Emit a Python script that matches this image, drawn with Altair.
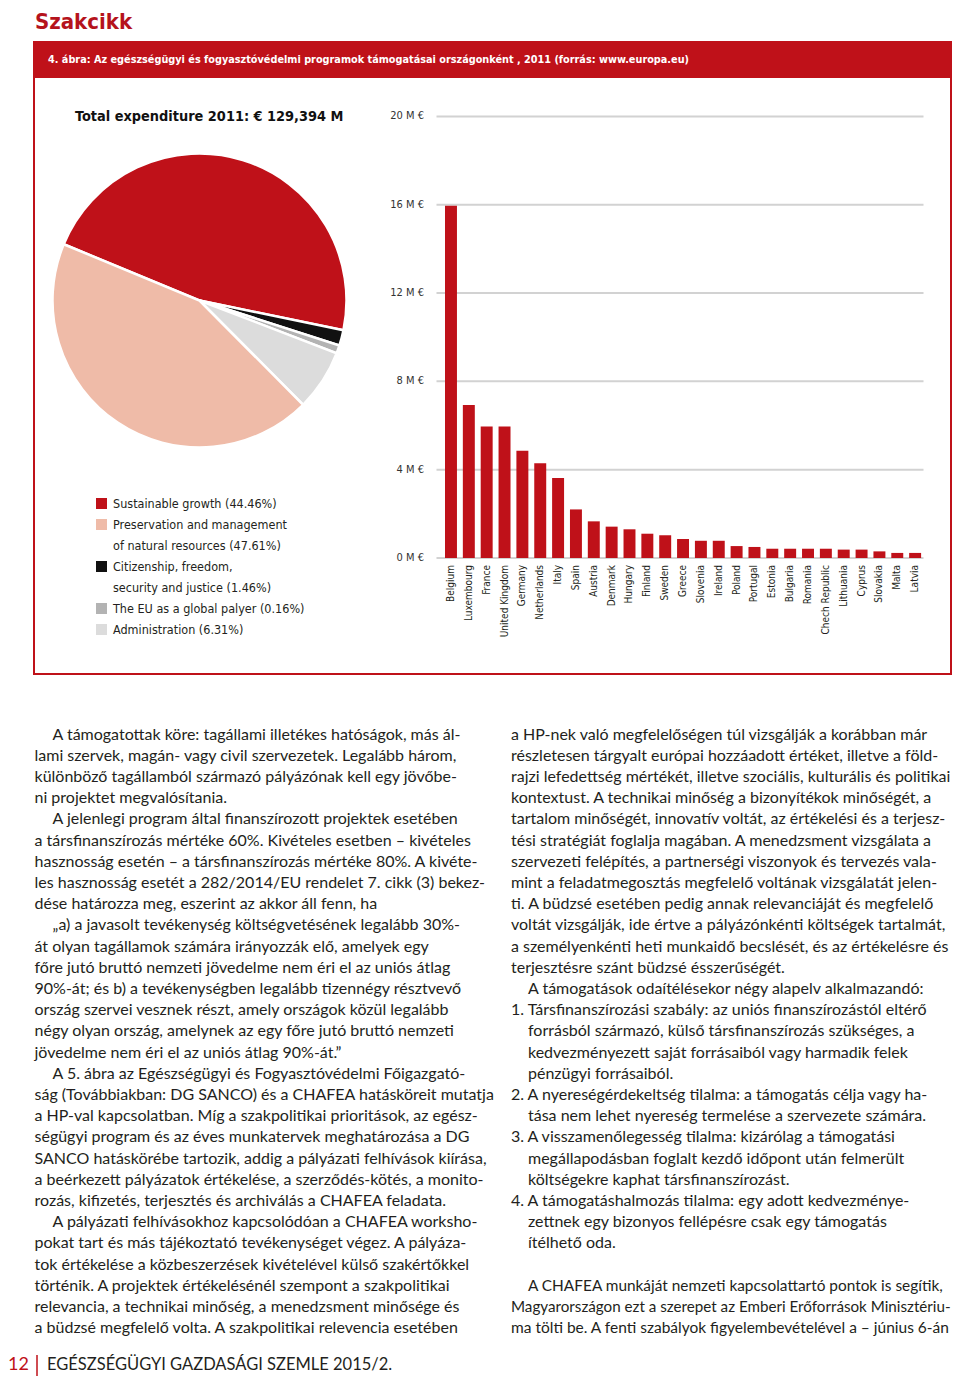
import math
import altair as alt
import pandas as pd

# ---------------------------------------------------------------- data
page_title = "Szakcikk"
fig_caption = ("4. ábra: Az egészségügyi és fogyasztóvédelmi programok támogatásai "
               "országonként , 2011 (forrás: www.europa.eu)")
pie_title = "Total expenditure 2011: € 129,394 M"

pie_categories = ["Sustainable growth",
                  "Citizenship, freedom, security and justice",
                  "The EU as a global palyer",
                  "Administration",
                  "Preservation and management of natural resources"]
pie_shares = [47.0, 1.7, 0.9, 6.7, 43.7]          # shares as drawn in the picture
pie_colors = ["#bf1119", "#111111", "#b3b3b3", "#dcdcdc", "#efbba8"]

legend_lines = ["Sustainable growth (44.46%)",
                "Preservation and management",
                "of natural resources (47.61%)",
                "Citizenship, freedom,",
                "security and justice (1.46%)",
                "The EU as a global palyer (0.16%)",
                "Administration (6.31%)"]
legend_square_lines = [0, 1, 3, 5, 6]
legend_square_cats = [pie_categories[0], pie_categories[4], pie_categories[1],
                      pie_categories[2], pie_categories[3]]

countries = ["Belgium", "Luxembourg", "France", "United Kingdom", "Germany",
             "Netherlands", "Italy", "Spain", "Austria", "Denmark", "Hungary",
             "Finland", "Sweden", "Greece", "Slovenia", "Ireland", "Poland",
             "Portugal", "Estonia", "Bulgaria", "Romania", "Chech Republic",
             "Lithuania", "Cyprus", "Slovakia", "Malta", "Latvia"]
values_meur = [15.95, 6.93, 5.96, 5.96, 4.86, 4.29, 3.62, 2.20, 1.66, 1.42, 1.30,
               1.10, 1.03, 0.86, 0.78, 0.78, 0.54, 0.50, 0.42, 0.42, 0.42, 0.42,
               0.38, 0.38, 0.30, 0.23, 0.23]
tick_values = [0, 4, 8, 12, 16, 20]
tick_labels = ["0 M €", "4 M €", "8 M €", "12 M €", "16 M €", "20 M €"]

left_lines = [
    "A támogatottak köre: tagállami illetékes hatóságok, más ál-",
    "lami szervek, magán- vagy civil szervezetek. Legalább három,",
    "különböző tagállamból származó pályázónak kell egy jövőbe-",
    "ni projektet megvalósítania.",
    "A jelenlegi program által finanszírozott projektek esetében",
    "a társfinanszírozás mértéke 60%. Kivételes esetben – kivételes",
    "hasznosság esetén – a társfinanszírozás mértéke 80%. A kivéte-",
    "les hasznosság esetét a 282/2014/EU rendelet 7. cikk (3) bekez-",
    "dése határozza meg, eszerint az akkor áll fenn, ha",
    "„a) a javasolt tevékenység költségvetésének legalább 30%-",
    "át olyan tagállamok számára irányozzák elő, amelyek egy",
    "főre  jutó bruttó nemzeti jövedelme nem éri el az uniós átlag",
    "90%-át; és b) a tevékenységben legalább tizennégy résztvevő",
    "ország szervei vesznek részt, amely országok közül legalább",
    "négy olyan ország, amelynek az egy főre jutó bruttó nemzeti",
    "jövedelme nem éri el az uniós átlag 90%-át.”",
    "A 5. ábra az  Egészségügyi és Fogyasztóvédelmi Főigazgató-",
    "ság (Továbbiakban: DG SANCO) és a CHAFEA hatásköreit mutatja",
    "a HP-val kapcsolatban. Míg a szakpolitikai prioritások, az egész-",
    "ségügyi program és az éves munkatervek meghatározása a DG",
    "SANCO hatáskörébe tartozik, addig a pályázati felhívások kiírása,",
    "a beérkezett pályázatok értékelése, a szerződés-kötés, a monito-",
    "rozás, kifizetés, terjesztés és archiválás a CHAFEA feladata.",
    "A pályázati felhívásokhoz kapcsolódóan a CHAFEA worksho-",
    "pokat tart és más tájékoztató tevékenységet végez. A pályáza-",
    "tok értékelése a közbeszerzések kivételével külső szakértőkkel",
    "történik. A projektek értékelésénél szempont a szakpolitikai",
    "relevancia, a technikai minőség, a menedzsment minősége és",
    "a büdzsé megfelelő volta. A szakpolitikai relevencia esetében",
]
left_indented = [0, 4, 9, 16, 23]

right_lines = [
    "a HP-nek való megfelelőségen túl vizsgálják a korábban már",
    "részletesen tárgyalt európai hozzáadott értéket, illetve a föld-",
    "rajzi lefedettség mértékét, illetve szociális, kulturális és politikai",
    "kontextust.  A technikai minőség a bizonyítékok minőségét, a",
    "tartalom minőségét, innovatív voltát, az értékelési és a terjesz-",
    "tési stratégiát foglalja magában. A menedzsment vizsgálata a",
    "szervezeti felépítés, a partnerségi viszonyok és tervezés vala-",
    "mint a feladatmegosztás megfelelő voltának vizsgálatát jelen-",
    "ti. A büdzsé esetében pedig annak relevanciáját és megfelelő",
    "voltát vizsgálják, ide értve a pályázónkénti költségek tartalmát,",
    "a személyenkénti heti munkaidő becslését, és az értékelésre és",
    "terjesztésre szánt büdzsé ésszerűségét.",
    "A támogatások odaítélésekor négy alapelv alkalmazandó:",
    "1. Társfinanszírozási szabály: az uniós finanszírozástól eltérő",
    "forrásból származó, külső társfinanszírozás szükséges, a",
    "kedvezményezett saját forrásaiból vagy harmadik felek",
    "pénzügyi forrásaiból.",
    "2. A nyereségérdekeltség tilalma: a támogatás célja vagy ha-",
    "tása nem lehet nyereség termelése a szervezete számára.",
    "3. A visszamenőlegesség tilalma: kizárólag a támogatási",
    "megállapodásban foglalt kezdő időpont után felmerült",
    "költségekre kaphat társfinanszírozást.",
    "4. A támogatáshalmozás tilalma: egy adott kedvezménye-",
    "zettnek egy bizonyos fellépésre csak egy támogatás",
    "ítélhető oda.",
    "",
    "A CHAFEA munkáját nemzeti kapcsolattartó pontok is segítik,",
    "Magyarországon ezt a szerepet az Emberi Erőforrások Minisztériu-",
    "ma tölti be. A fenti szabályok figyelembevételével a – június 6-án",
]
right_indented = [12, 14, 15, 16, 18, 20, 21, 23, 24, 26]

footer_page = "12"
footer_text = "EGÉSZSÉGÜGYI GAZDASÁGI SZEMLE 2015/2."

# ---------------------------------------------------------------- style
RED = "#bf1119"
INK = "#231f20"
NARROW = "'DejaVu Sans Condensed', 'Liberation Sans', sans-serif"
BODY = "Lato, 'Open Sans', sans-serif"
OX, OY = 8, 8          # page margin of the embedding html

W, H = 944, 1371
BODY_SIZE = 16
# a few long lines of the right column set a touch tighter so they fit the page
right_size_override = {26: 15.4, 27: 15.2, 28: 15.5}


def P(x):
    return x - OX


def Q(y):
    return y - OY


def const_chart():
    return alt.Chart(pd.DataFrame({"k": [0]}))


# ---------------------------------------------------------------- header
title_txt = const_chart().mark_text(
    text=page_title, font=NARROW, fontSize=22, fontWeight="bold", color="#b5131c",
    align="left", baseline="alphabetic"
).encode(x=alt.value(P(35)), y=alt.value(20.5))

box = const_chart().mark_rect(fill="white", stroke=RED, strokeWidth=2).encode(
    x=alt.value(P(34)), x2=alt.value(P(951)), y=alt.value(Q(42)), y2=alt.value(Q(674)))

band = const_chart().mark_rect(fill=RED).encode(
    x=alt.value(P(34)), x2=alt.value(P(951)), y=alt.value(Q(42)), y2=alt.value(Q(78)))

caption_txt = const_chart().mark_text(
    text=fig_caption, font=NARROW, fontSize=10.8, fontWeight="bold", color="white",
    align="left", baseline="middle"
).encode(x=alt.value(P(48)), y=alt.value(Q(60)))

# ---------------------------------------------------------------- pie
pie_df = pd.DataFrame({"cat": pie_categories, "share": pie_shares,
                       "ord": list(range(len(pie_categories)))})
color_scale = alt.Scale(domain=pie_categories, range=pie_colors)
theta0 = math.radians(292.5)

pie = alt.Chart(pie_df).mark_arc(outerRadius=147, stroke="white", strokeWidth=2.5).encode(
    theta=alt.Theta("share:Q", stack=True,
                    scale=alt.Scale(domain=[0, 100], range=[theta0, theta0 + 2 * math.pi])),
    color=alt.Color("cat:N", scale=color_scale, legend=None),
    order=alt.Order("ord:Q"),
    x=alt.value(P(199.5)), y=alt.value(Q(300.5)),
)

pie_title_txt = const_chart().mark_text(
    text=pie_title, font=NARROW, fontSize=14.4, fontWeight="bold", color="#111111",
    align="left", baseline="middle"
).encode(x=alt.value(P(75)), y=alt.value(Q(117)))

# legend (manual)
LEG_Y0, LEG_LH = 503.5, 21.0
leg_sq_df = pd.DataFrame({"cat": legend_square_cats, "line": legend_square_lines})
leg_sq = alt.Chart(leg_sq_df).mark_square(size=121, opacity=1, filled=True).transform_calculate(
    py=f"{Q(LEG_Y0)} + datum.line * {LEG_LH}"
).encode(
    x=alt.value(P(101.5)),
    y=alt.Y("py:Q", scale=None, axis=None),
    color=alt.Color("cat:N", scale=color_scale, legend=None),
)
leg_txt_df = pd.DataFrame({"t": legend_lines, "line": list(range(len(legend_lines)))})
leg_txt = alt.Chart(leg_txt_df).mark_text(
    font=NARROW, fontSize=12.5, color=INK, align="left", baseline="middle"
).transform_calculate(
    py=f"{Q(LEG_Y0)} + datum.line * {LEG_LH}"
).encode(
    x=alt.value(P(113)),
    y=alt.Y("py:Q", scale=None, axis=None),
    text="t:N",
)

# ---------------------------------------------------------------- bar chart
bar_df = pd.DataFrame({"country": countries, "value": values_meur})
tick_df = pd.DataFrame({"v": tick_values, "lab": tick_labels})

x_enc = alt.X("country:N", sort=countries, axis=None,
              scale=alt.Scale(range=[P(436.0), P(930.1)], paddingInner=0.33,
                              paddingOuter=0.504, round=False))
y_scale = alt.Scale(domain=[0, 20], range=[Q(558), Q(116.4)])

grid = alt.Chart(tick_df).mark_rule(color="#d2d2d2", strokeWidth=2).encode(
    y=alt.Y("v:Q", scale=y_scale, axis=None),
    x=alt.value(P(436.5)), x2=alt.value(P(923.5)),
)
ylab = alt.Chart(tick_df).mark_text(
    font=NARROW, fontSize=11, color="#333333", align="right", baseline="middle"
).encode(
    y=alt.Y("v:Q", scale=y_scale, axis=None),
    x=alt.value(P(424)),
    text="lab:N",
)
bars = alt.Chart(bar_df).mark_bar(color=RED).encode(
    x=x_enc,
    y=alt.Y("value:Q", scale=y_scale, axis=None),
)
xlab = alt.Chart(bar_df).mark_text(
    font=NARROW, fontSize=10, color=INK, angle=270, align="right", baseline="middle"
).encode(
    x=x_enc,
    y=alt.value(Q(565)),
    text="country:N",
)
bar_block = alt.layer(grid, ylab, bars, xlab)

# ---------------------------------------------------------------- body text
LH = 21.2


def text_block(lines, x_norm, x_ind, indented, y0, overrides):
    df = pd.DataFrame({
        "t": lines,
        "px": [P(x_ind if i in indented else x_norm) for i in range(len(lines))],
        "py": [Q(y0 + i * LH) for i in range(len(lines))],
        "fs": [overrides.get(i, BODY_SIZE) for i in range(len(lines))],
    })
    return alt.Chart(df).mark_text(
        font=BODY, color=INK, align="left", baseline="middle"
    ).encode(
        x=alt.X("px:Q", scale=None, axis=None),
        y=alt.Y("py:Q", scale=None, axis=None),
        size=alt.Size("fs:Q", scale=None, legend=None),
        text="t:N",
    )


left_block = text_block(left_lines, 34.5, 52.5, left_indented, 734.5, {})
right_block = text_block(right_lines, 511, 528, right_indented, 734.5, right_size_override)

# ---------------------------------------------------------------- footer
foot_num = const_chart().mark_text(
    text=footer_page, font=BODY, fontSize=18, color=RED, align="left", baseline="middle"
).encode(x=alt.value(0), y=alt.value(Q(1365)))
foot_bar = const_chart().mark_rule(color=RED, strokeWidth=1.5).encode(
    x=alt.value(P(37)), y=alt.value(Q(1355)), y2=alt.value(Q(1376)))
foot_txt = const_chart().mark_text(
    text=footer_text, font=BODY, fontSize=16.5, color=INK, align="left", baseline="middle"
).encode(x=alt.value(P(47)), y=alt.value(Q(1365)))

# ---------------------------------------------------------------- assemble
chart = alt.layer(
    box, band, caption_txt, title_txt,
    pie, pie_title_txt, leg_sq, leg_txt,
    bar_block,
    left_block, right_block,
    foot_num, foot_bar, foot_txt,
).resolve_scale(
    x="independent", y="independent", color="independent", theta="independent",
    size="independent",
).properties(
    width=W, height=H, autosize=alt.AutoSizeParams(type="none"), padding=0,
    background="white",
).configure_view(stroke=None)

chart.save("out.html", embed_options={"renderer": "svg", "actions": False})
